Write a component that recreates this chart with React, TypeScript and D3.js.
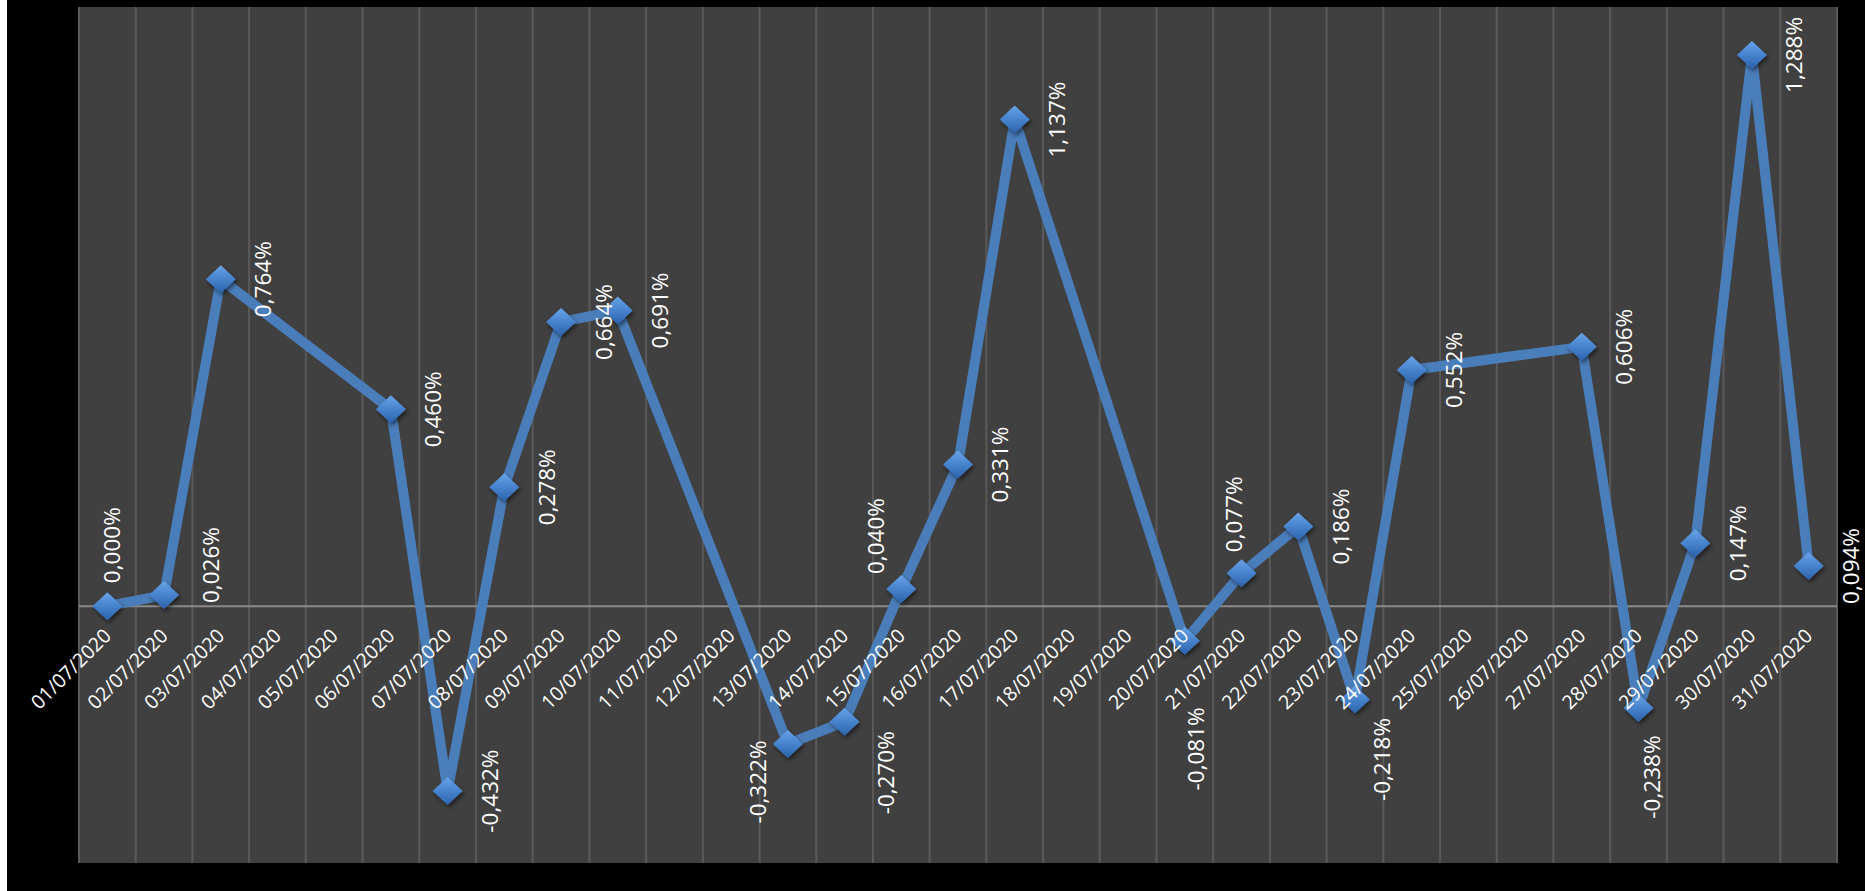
import React from "react";
import * as d3 from "d3";

// ---------- DATA ----------
const dates: string[] = [
  "01/07/2020", "02/07/2020", "03/07/2020", "04/07/2020", "05/07/2020", "06/07/2020",
  "07/07/2020", "08/07/2020", "09/07/2020", "10/07/2020", "11/07/2020", "12/07/2020",
  "13/07/2020", "14/07/2020", "15/07/2020", "16/07/2020", "17/07/2020", "18/07/2020",
  "19/07/2020", "20/07/2020", "21/07/2020", "22/07/2020", "23/07/2020", "24/07/2020",
  "25/07/2020", "26/07/2020", "27/07/2020", "28/07/2020", "29/07/2020", "30/07/2020",
  "31/07/2020",
];

// daily variation in %, null = no value (weekend)
const values: (number | null)[] = [
  0.0, 0.026, 0.764, null, null, 0.46,
  -0.432, 0.278, 0.664, 0.691, null, null,
  -0.322, -0.27, 0.04, 0.331, 1.137, null,
  null, -0.081, 0.077, 0.186, -0.218, 0.552,
  null, null, 0.606, -0.238, 0.147, 1.288,
  0.094,
];

const yDomain: [number, number] = [-0.6, 1.4];

// ---------- LAYOUT ----------
const W = 1865;
const H = 891;
const PLOT = { left: 79, right: 1837, top: 7, bottom: 863 };

// label placement offsets relative to the point (dx, dy), in px
const LABEL_RIGHT: [number, number] = [42, 0];
const labelOffsets: Record<number, [number, number]> = {
  0: [4, -61],
  1: [46, -30],
  12: [-30, 38],
  13: [41, 51],
  14: [-26, -53],
  19: [11, 108],
  20: [-8, -59],
  22: [27, 60],
  27: [13, 69],
};

const fmt = (v: number) => v.toFixed(3).replace(".", ",") + "%";

export default function App() {
  const x = d3.scaleBand<string>().domain(dates).range([PLOT.left, PLOT.right]).padding(0);
  const y = d3.scaleLinear().domain(yDomain).range([PLOT.bottom, PLOT.top]);
  const bw = x.bandwidth();
  const cx = (d: string) => (x(d) as number) + bw / 2;

  const pts = dates
    .map((d, i) => ({ d, i, v: values[i] }))
    .filter((p) => p.v !== null) as { d: string; i: number; v: number }[];

  const line = d3
    .line<{ d: string; v: number }>()
    .x((p) => cx(p.d))
    .y((p) => y(p.v));

  const y0 = y(0);
  const gridXs = dates.map((d) => x(d) as number).concat([PLOT.right]);
  const diamond = "M0,-14 L15,0 L0,14 L-15,0 Z";

  return (
    <div style={{ position: "absolute", left: 0, top: 0, width: W, height: H }}>
      <svg width={W} height={H} style={{ display: "block" }}>
        <defs>
          <linearGradient id="dg" x1="0" y1="0" x2="0" y2="1">
            <stop offset="0%" stopColor="#69a3e6" />
            <stop offset="45%" stopColor="#4a86d0" />
            <stop offset="100%" stopColor="#2c62ab" />
          </linearGradient>
          <filter id="sh" x="-50%" y="-50%" width="200%" height="200%">
            <feDropShadow dx="1.5" dy="2.5" stdDeviation="2" floodColor="#000" floodOpacity="0.55" />
          </filter>
        </defs>
        <rect x={0} y={0} width={W} height={H} fill="#ffffff" />
        <rect x={7} y={0} width={W - 7} height={H} fill="#000000" />
        <rect
          x={PLOT.left}
          y={PLOT.top}
          width={PLOT.right - PLOT.left}
          height={PLOT.bottom - PLOT.top}
          fill="#404040"
        />
        {gridXs.map((gx, i) => (
          <line key={i} x1={gx} x2={gx} y1={PLOT.top} y2={PLOT.bottom} stroke="#5a5a5a" strokeWidth={2} />
        ))}
        <line x1={PLOT.left} x2={PLOT.right} y1={y0} y2={y0} stroke="#8a8a8a" strokeWidth={2} />

        <path
          d={line(pts) as string}
          fill="none"
          stroke="#4a7ebb"
          strokeWidth={10}
          strokeLinejoin="miter"
          strokeLinecap="butt"
        />
        {pts.map((p) => (
          <path
            key={p.d}
            d={diamond}
            transform={`translate(${cx(p.d)},${y(p.v)})`}
            fill="url(#dg)"
            filter="url(#sh)"
          />
        ))}

        {dates.map((d) => {
          const ax = cx(d) + 5;
          const ay = y0 + 31;
          return (
            <text
              key={d}
              x={ax}
              y={ay}
              transform={`rotate(-45 ${ax} ${ay})`}
              textAnchor="end"
              fill="#ffffff"
              fontFamily="'Open Sans', sans-serif"
              fontSize={19.5}
            >
              {d}
            </text>
          );
        })}

        {pts.map((p) => {
          const [dx, dy] = labelOffsets[p.i] ?? LABEL_RIGHT;
          const lx = cx(p.d) + dx;
          const ly = y(p.v) + dy;
          return (
            <text
              key={"l" + p.d}
              x={lx}
              y={ly}
              transform={`rotate(-90 ${lx} ${ly})`}
              textAnchor="middle"
              dominantBaseline="central"
              fill="#ffffff"
              fontFamily="'Open Sans', sans-serif"
              fontSize={22.5}
            >
              {fmt(p.v)}
            </text>
          );
        })}
      </svg>
    </div>
  );
}
